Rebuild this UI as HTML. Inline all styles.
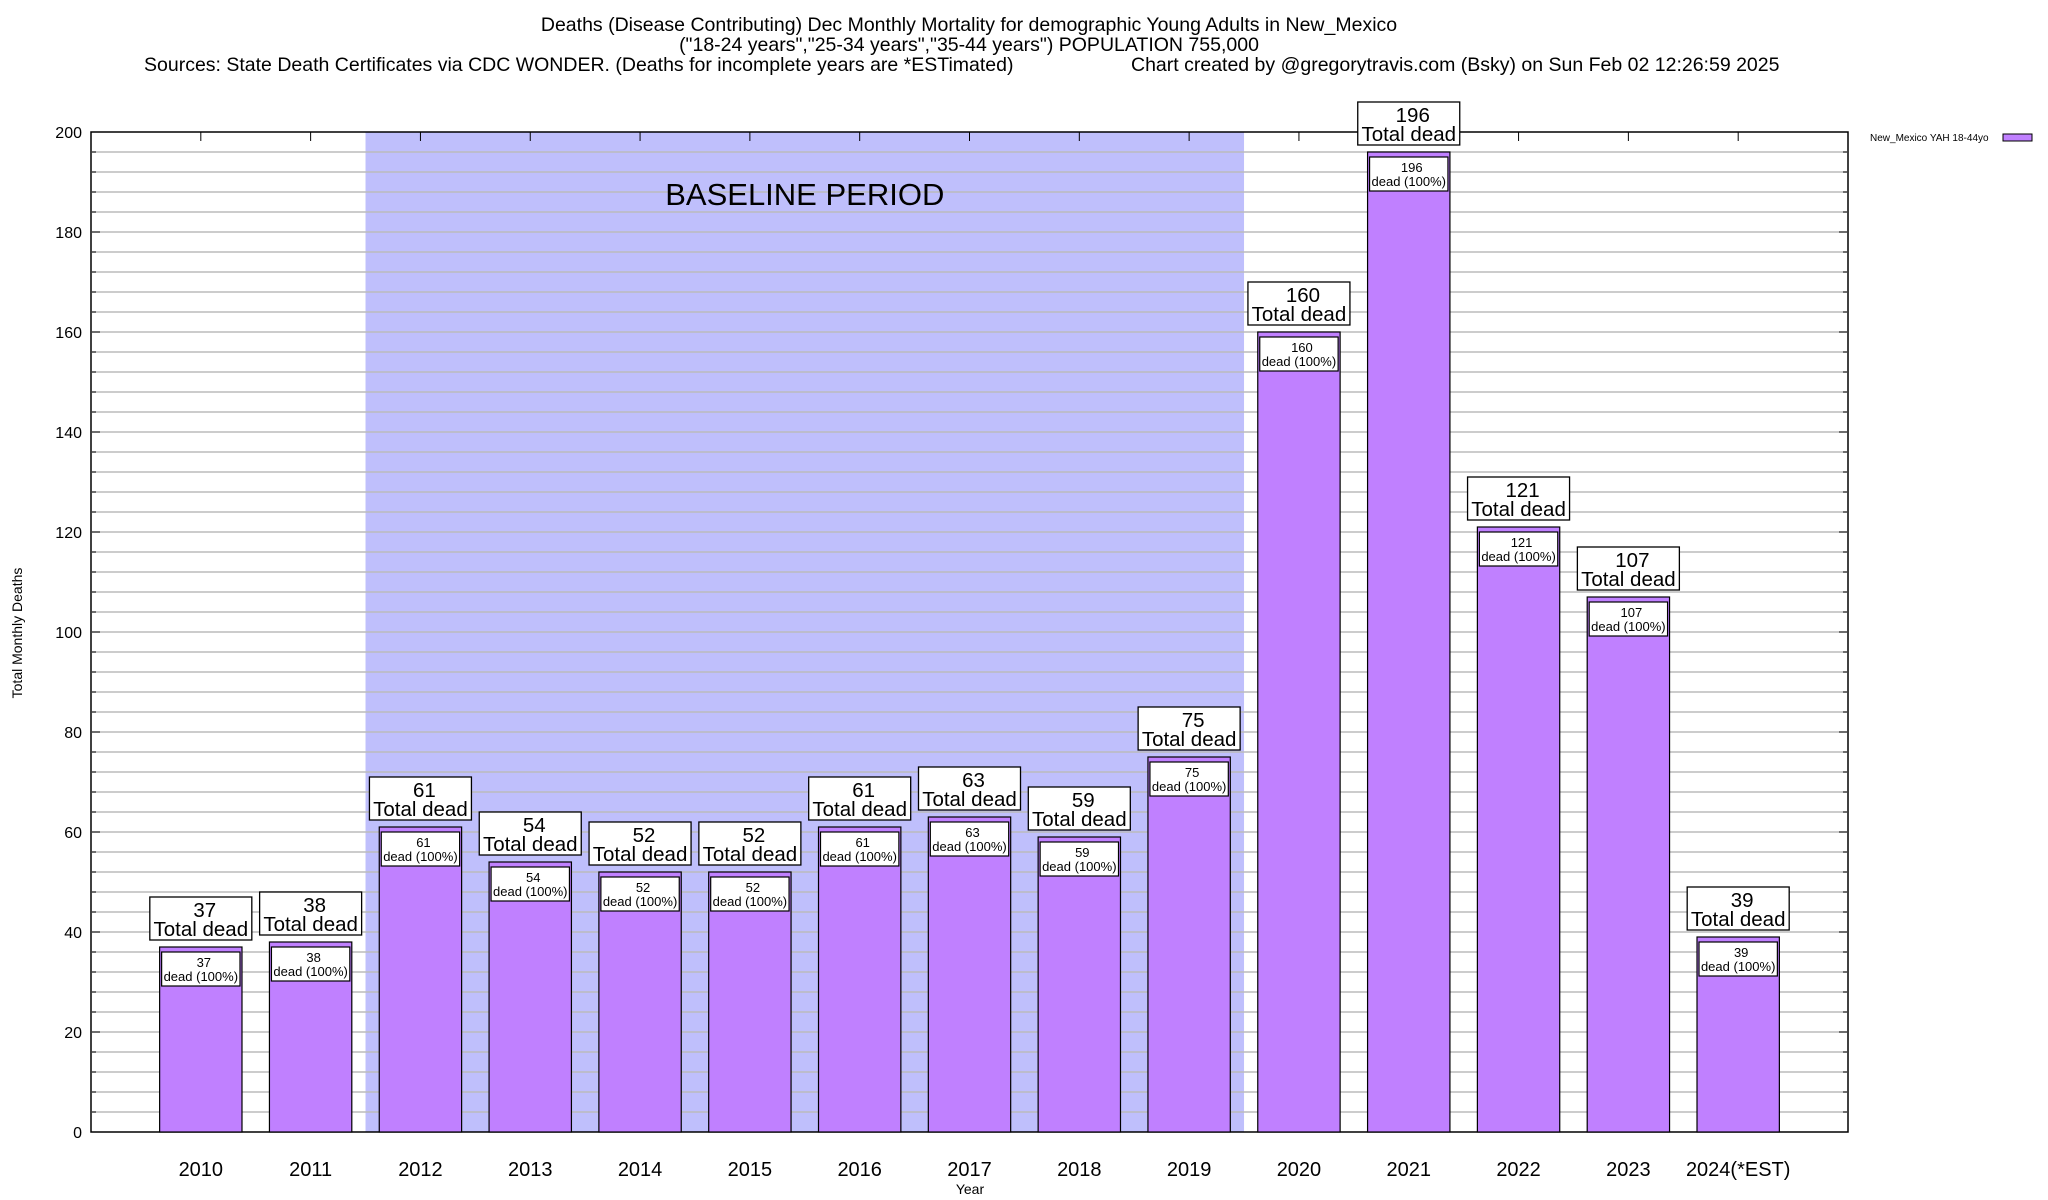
<!DOCTYPE html>
<html><head><meta charset="utf-8"><style>
html,body{margin:0;padding:0;background:#fff;}
svg{display:block;font-family:"Liberation Sans",sans-serif;}
</style></head><body>
<svg id="chart" width="2048" height="1200" viewBox="0 0 2048 1200" xmlns="http://www.w3.org/2000/svg">
<g font-size="19.5" fill="#000">
<text x="969" y="31" text-anchor="middle">Deaths (Disease Contributing) Dec Monthly Mortality for demographic Young Adults in New_Mexico</text>
<text x="969" y="51" text-anchor="middle">("18-24 years","25-34 years","35-44 years") POPULATION 755,000</text>
<text x="144" y="71">Sources: State Death Certificates via CDC WONDER. (Deaths for incomplete years are *ESTimated)</text>
<text x="1131" y="71">Chart created by @gregorytravis.com (Bsky) on Sun Feb 02 12:26:59 2025</text>
</g>
<g id="plot"></g>
<text x="22" y="633" font-size="14" text-anchor="middle" transform="rotate(-90 22 633)">Total Monthly Deaths</text>
<text x="970" y="1194" font-size="14" text-anchor="middle">Year</text>
<g>
<text x="1870" y="141" font-size="10">New_Mexico YAH 18-44yo</text>
<rect x="2003" y="134" width="29" height="7" fill="#c080ff" stroke="#000" stroke-width="1"/>
</g>
</svg>
<script>
const categories = ["2010","2011","2012","2013","2014","2015","2016","2017","2018","2019","2020","2021","2022","2023","2024(*EST)"];
const deaths = [37,38,61,54,52,52,61,63,59,75,160,196,121,107,39];
const yTicks = [0,20,40,60,80,100,120,140,160,180,200];
const baselineRange = [1.5, 9.5];

const L=91,R=1848,T=132,B=1132;
const xMin=-1,xMax=15,yMin=0,yMax=200;
const xs=v=>L+(v-xMin)/(xMax-xMin)*(R-L);
const ys=v=>B-(v-yMin)/(yMax-yMin)*(B-T);
const NS="http://www.w3.org/2000/svg";
const plot=document.getElementById('plot');
function mk(tag,attrs,parent){const e=document.createElementNS(NS,tag);for(const k in attrs)e.setAttribute(k,attrs[k]);(parent||plot).appendChild(e);return e;}

let sh=mk('rect',{x:xs(baselineRange[0]),y:T,width:xs(baselineRange[1])-xs(baselineRange[0]),height:B-T,fill:'#bfbffc'});


for(let v=4;v<200;v+=4){
  let g=mk('line',{x1:L,x2:R,y1:ys(v),y2:ys(v),stroke:'#bbb','stroke-width':1.5});
  
  
  mk('line',{x1:L,x2:L+(v%20==0?9:5),y1:ys(v),y2:ys(v),stroke:'#000'});
  mk('line',{x1:R,x2:R-(v%20==0?9:5),y1:ys(v),y2:ys(v),stroke:'#000'});
}
let bt=mk('text',{x:(xs(baselineRange[0])+xs(baselineRange[1]))/2,y:205,'font-size':31,'text-anchor':'middle'});
bt.textContent='BASELINE PERIOD';


yTicks.forEach(v=>{
  let t=mk('text',{x:82,y:ys(v)+6,'font-size':16,'text-anchor':'end'});
  t.textContent=v;
  
  
});
const bw=0.75*(xs(1)-xs(0));
categories.forEach((c,i)=>{
  const cx=xs(i),v=deaths[i],top=ys(v);
  mk('line',{x1:cx,x2:cx,y1:B,y2:B-9,stroke:'#000'});
  mk('line',{x1:cx,x2:cx,y1:T,y2:T+9,stroke:'#000'});
  let b=mk('rect',{x:cx-bw/2,y:top,width:bw,height:B-top,fill:'#c080ff',stroke:'#000','stroke-width':1.2});
  
  
  let ib=mk('rect',{x:cx-bw/2+2,y:top+5,width:bw-4,height:34,fill:'#fff',stroke:'#000','stroke-width':1.2});
  
  
  let t1=mk('text',{x:cx+3,y:top+20,'font-size':13,'text-anchor':'middle'});t1.textContent=v;
  
  
  let t2=mk('text',{x:cx,y:top+34,'font-size':13,'text-anchor':'middle'});t2.textContent='dead (100%)';
  
  
  let ob=mk('rect',{x:cx-51,y:top-50,width:102,height:43,fill:'#fff',stroke:'#000','stroke-width':1.3});
  
  
  let o1=mk('text',{x:cx+4,y:top-30,'font-size':20.5,'text-anchor':'middle'});o1.textContent=v;
  
  
  let o2=mk('text',{x:cx,y:top-11,'font-size':20.5,'text-anchor':'middle'});o2.textContent='Total dead';
  
  
  let xl=mk('text',{x:cx,y:1176,'font-size':20,'text-anchor':'middle'});xl.textContent=c;
  
  
});
let fr=mk('rect',{x:L,y:T,width:R-L,height:B-T,fill:'none',stroke:'#000','stroke-width':1.5});


plot.insertBefore(fr,plot.children[1]);
</script>
</body></html>
